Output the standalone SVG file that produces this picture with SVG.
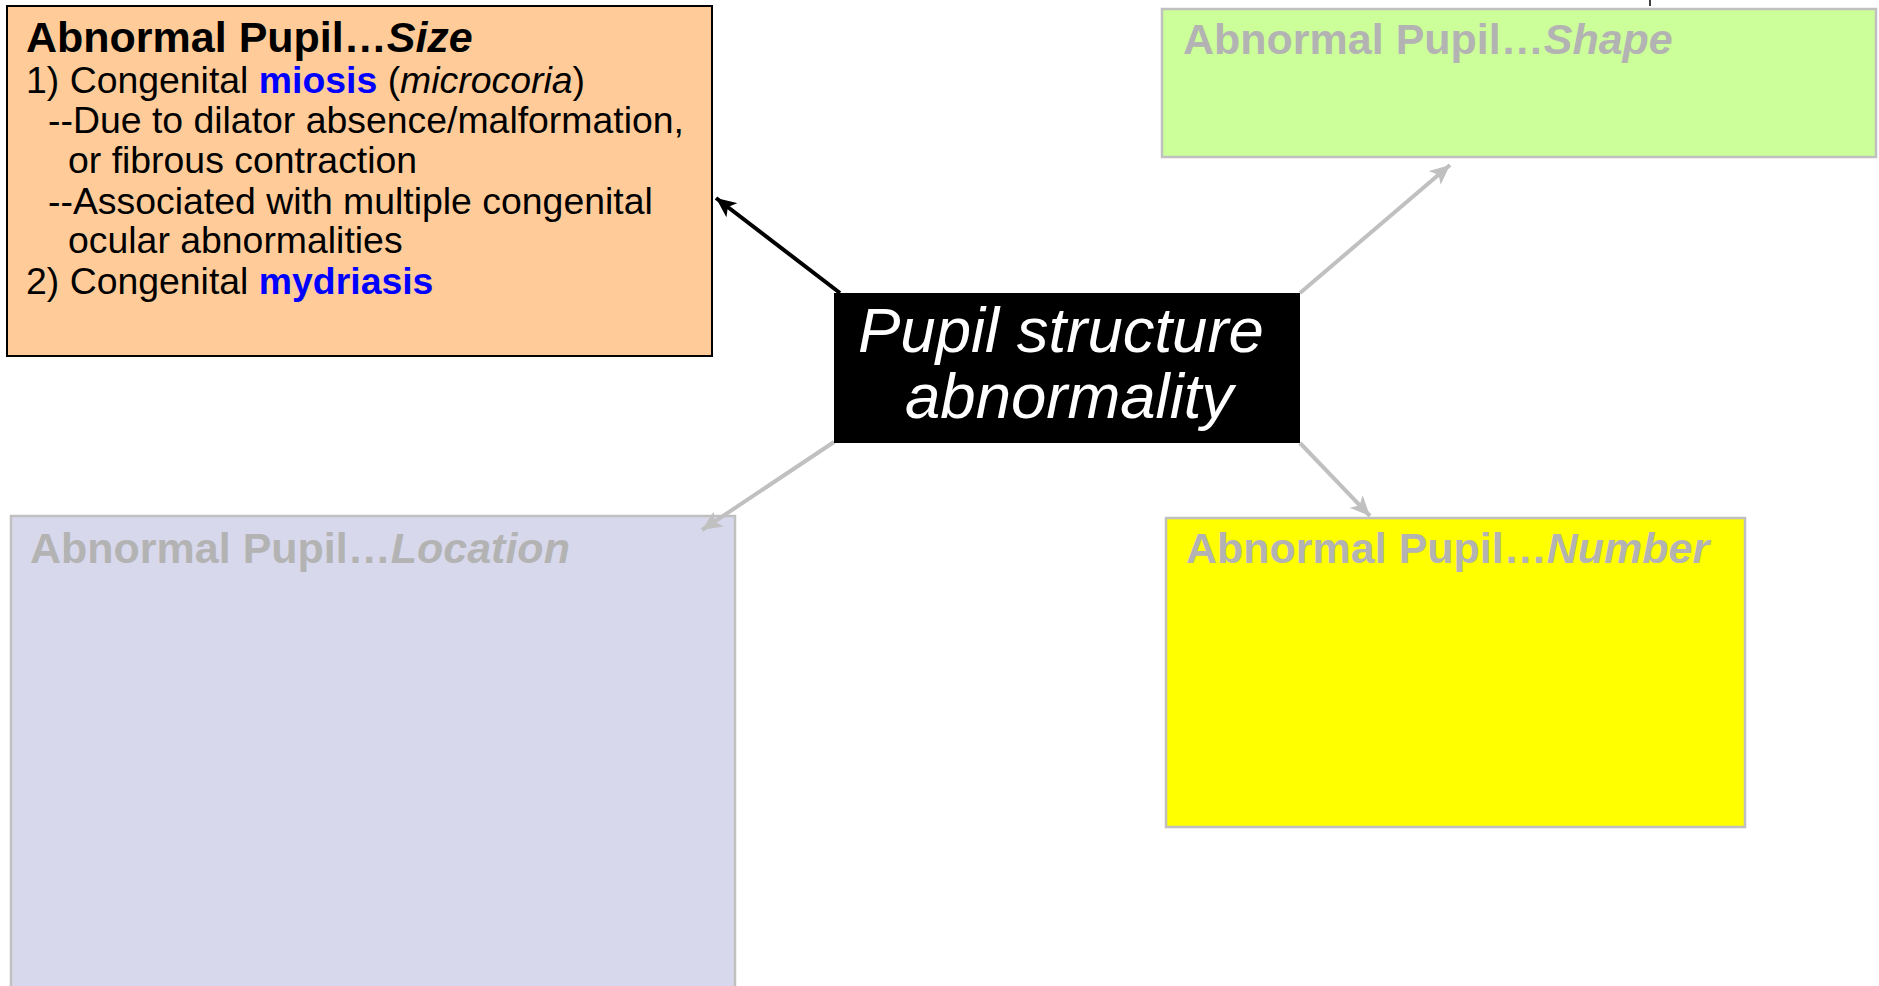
<svg xmlns="http://www.w3.org/2000/svg" width="1879" height="986" viewBox="0 0 1879 986">
<style>
.t{font-family:"Liberation Sans",Arial,sans-serif}
.title{font-size:43px;font-weight:bold}
.body{font-size:37.4px;fill:#000}
.gray{fill:#b3b3b3}
.blue{fill:#0000ff;font-weight:bold}
.gbox{stroke:#c0c0c0;stroke-width:2.5}
.gline{stroke:#c0c0c0;stroke-width:4;fill:none}
</style>
<defs>
<marker id="ab" markerUnits="userSpaceOnUse" markerWidth="22" markerHeight="18" refX="20" refY="9" orient="auto"><path d="M0,0 L20,9 L0,18 L5,9 Z" fill="#000"/></marker>
<marker id="ag" markerUnits="userSpaceOnUse" markerWidth="22" markerHeight="18" refX="20" refY="9" orient="auto"><path d="M0,0 L20,9 L0,18 L5,9 Z" fill="#c0c0c0"/></marker>
</defs>
<rect width="1879" height="986" fill="#fff"/>
<line x1="1650" y1="0" x2="1650" y2="6" stroke="#000" stroke-width="1.5"/>
<g id="size">
<rect x="7" y="6" width="705" height="350" fill="#ffcc99" stroke="#000" stroke-width="2"/>
<text class="t title" x="26" y="52">Abnormal Pupil…<tspan font-style="italic">Size</tspan></text>
<text class="t body" x="26" y="93">1) Congenital <tspan class="blue">miosis</tspan> (<tspan font-style="italic">microcoria</tspan>)</text>
<text class="t body" x="48" y="133">--Due to dilator absence/malformation,</text>
<text class="t body" x="68" y="173">or fibrous contraction</text>
<text class="t body" x="48" y="214">--Associated with multiple congenital</text>
<text class="t body" x="68" y="253">ocular abnormalities</text>
<text class="t body" x="26" y="294">2) Congenital <tspan class="blue">mydriasis</tspan></text>
</g>
<g id="shape">
<rect class="gbox" x="1162" y="9" width="714" height="148" fill="#ccff99"/>
<text class="t title gray" x="1183" y="54">Abnormal Pupil…<tspan font-style="italic">Shape</tspan></text>
</g>
<g id="location">
<rect class="gbox" x="11" y="516" width="724" height="480" fill="#d8d8ec"/>
<text class="t title gray" x="30" y="563">Abnormal Pupil…<tspan font-style="italic">Location</tspan></text>
</g>
<g id="number">
<rect class="gbox" x="1166" y="518" width="579" height="309" fill="#ffff00"/>
<text class="t title gray" x="1186" y="563">Abnormal Pupil…<tspan font-style="italic">Number</tspan></text>
</g>
<g id="connectors">
<line x1="840" y1="293" x2="716" y2="198" stroke="#000" stroke-width="4" marker-end="url(#ab)"/>
<line class="gline" x1="1300" y1="293" x2="1450" y2="165" marker-end="url(#ag)"/>
<line class="gline" x1="834" y1="442" x2="702" y2="530" marker-end="url(#ag)"/>
<line class="gline" x1="1300" y1="443" x2="1370" y2="516" marker-end="url(#ag)"/>
</g>
<g id="center">
<rect x="834" y="293" width="466" height="150" fill="#000"/>
<text class="t" font-size="63.5" font-style="italic" fill="#fff" x="858" y="352">Pupil structure</text>
<text class="t" font-size="63.5" font-style="italic" fill="#fff" x="905" y="418">abnormality</text>
</g>
</svg>
